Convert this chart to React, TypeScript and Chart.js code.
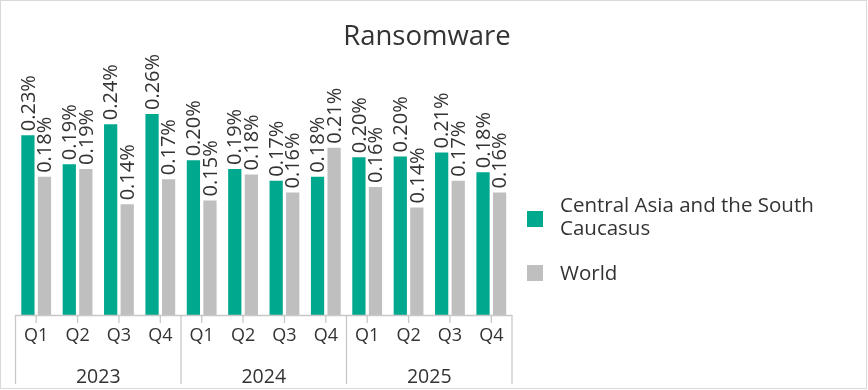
import React, { useEffect, useRef } from "react";
import { Chart, registerables } from "chart.js";

Chart.register(...registerables);

const quarters = ["Q1", "Q2", "Q3", "Q4", "Q1", "Q2", "Q3", "Q4", "Q1", "Q2", "Q3", "Q4"];
const years = ["2023", "2024", "2025"];
const seriesNames = ["Central Asia and the South Caucasus", "World"];
const legendLines = ["Central Asia and the South", "Caucasus"];
const centralAsia = [0.229, 0.192, 0.243, 0.256, 0.197, 0.186, 0.171, 0.176, 0.201, 0.202, 0.207, 0.182];
const world = [0.176, 0.186, 0.141, 0.173, 0.146, 0.179, 0.156, 0.213, 0.163, 0.137, 0.171, 0.156];
const titleText = "Ransomware";

const GREEN = "#00A88E";
const GRAY = "#BFBFBF";
const TEXT = "#333333";
const LINE = "#C8C8C8";
const FONT = "'Open Sans', sans-serif";

const decorPlugin = {
  id: "decor",
  afterDatasetsDraw(chart: any) {
    const ctx = chart.ctx as CanvasRenderingContext2D;
    ctx.save();
    ctx.fillStyle = TEXT;
    ctx.font = `20px ${FONT}`;
    chart.data.datasets.forEach((ds: any, di: number) => {
      const meta = chart.getDatasetMeta(di);
      meta.data.forEach((bar: any, i: number) => {
        const v = ds.data[i] as number;
        ctx.save();
        ctx.translate(bar.x, bar.y - 4);
        ctx.rotate(-Math.PI / 2);
        ctx.textAlign = "left";
        ctx.textBaseline = "middle";
        ctx.fillText(v.toFixed(2) + "%", 0, 1);
        ctx.restore();
      });
    });
    ctx.restore();
  },
  afterDraw(chart: any) {
    const ctx = chart.ctx as CanvasRenderingContext2D;
    const area = chart.chartArea;
    const xs = chart.scales.x;
    ctx.save();
    // outer border
    ctx.strokeStyle = "#D9D9D9";
    ctx.lineWidth = 1;
    ctx.strokeRect(0.5, 0.5, 866, 388);
    // title
    ctx.fillStyle = TEXT;
    ctx.font = `27.5px ${FONT}`;
    ctx.textAlign = "center";
    ctx.textBaseline = "alphabetic";
    ctx.fillText(titleText, 427, 45);
    // axis line
    ctx.strokeStyle = LINE;
    ctx.lineWidth = 1.3;
    ctx.beginPath();
    ctx.moveTo(area.left, area.bottom + 0.5);
    ctx.lineTo(area.right, area.bottom + 0.5);
    ctx.stroke();
    // tick marks and quarter labels
    ctx.font = `18px ${FONT}`;
    ctx.fillStyle = TEXT;
    quarters.forEach((q, i) => {
      const x = xs.getPixelForValue(i);
      ctx.beginPath();
      ctx.moveTo(x, area.bottom);
      ctx.lineTo(x, area.bottom + 8);
      ctx.stroke();
      ctx.fillText(q, x, 341);
    });
    // year separators and labels
    const half = (xs.getPixelForValue(1) - xs.getPixelForValue(0)) / 2;
    for (let g = 0; g <= years.length; g++) {
      const idx = g * 4;
      const x = idx < quarters.length ? xs.getPixelForValue(idx) - half : xs.getPixelForValue(quarters.length - 1) + half;
      ctx.beginPath();
      ctx.moveTo(x, area.bottom);
      ctx.lineTo(x, 384);
      ctx.stroke();
    }
    ctx.font = `19.5px ${FONT}`;
    years.forEach((y, g) => {
      const x0 = xs.getPixelForValue(g * 4) - half;
      const x1 = xs.getPixelForValue(g * 4 + 3) + half;
      ctx.fillText(y, (x0 + x1) / 2, 383);
    });
    // legend
    ctx.textAlign = "left";
    ctx.fillStyle = GREEN;
    ctx.fillRect(527, 211, 16, 16);
    ctx.fillStyle = GRAY;
    ctx.fillRect(527, 265, 16, 16);
    ctx.fillStyle = TEXT;
    ctx.font = `20.5px ${FONT}`;
    ctx.fillText(legendLines[0], 560, 211.5);
    ctx.fillText(legendLines[1], 560, 234.5);
    ctx.fillText(seriesNames[1], 560, 280);
    ctx.restore();
  },
};

export default function App() {
  const ref = useRef<HTMLCanvasElement>(null);
  useEffect(() => {
    document.body.style.margin = "0";
    const chart = new Chart(ref.current as HTMLCanvasElement, {
      type: "bar",
      data: {
        labels: quarters.map((q, i) => `${years[Math.floor(i / 4)]} ${q}`),
        datasets: [
          { label: seriesNames[0], data: centralAsia, backgroundColor: GREEN, categoryPercentage: 0.8, barPercentage: 0.8 },
          { label: seriesNames[1], data: world, backgroundColor: GRAY, categoryPercentage: 0.8, barPercentage: 0.8 },
        ],
      },
      options: {
        responsive: false,
        animation: false,
        layout: { padding: { left: 15.5, right: 356, top: 79.5, bottom: 75 } },
        scales: {
          x: { display: false },
          y: { display: false, min: 0, max: 0.3 },
        },
        plugins: { legend: { display: false }, tooltip: { enabled: false }, title: { display: false } },
      },
      plugins: [decorPlugin],
    });
    return () => chart.destroy();
  }, []);
  return (
    <div style={{ width: 868, height: 390, background: "#fff" }}>
      <canvas ref={ref} width={868} height={390} />
    </div>
  );
}
